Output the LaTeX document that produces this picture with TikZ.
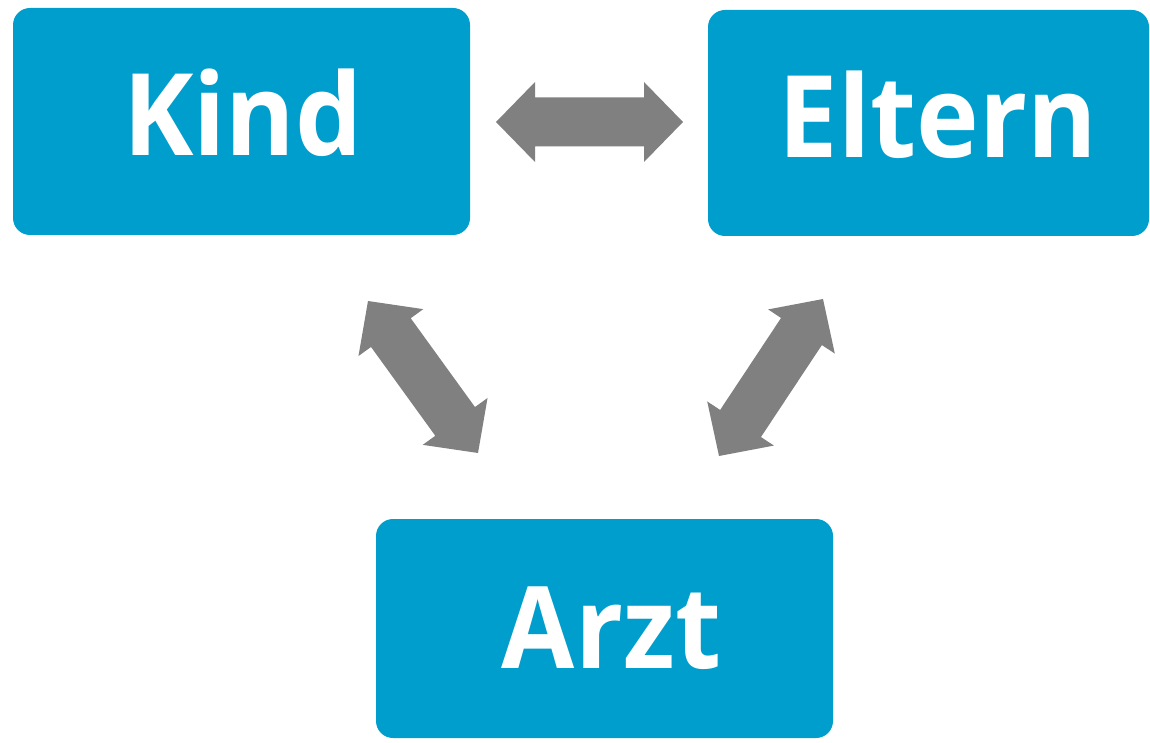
\documentclass[tikz,border=0pt]{standalone}
\usepackage{fontspec}
\setmainfont{Open Sans}
\usetikzlibrary{calc}
\definecolor{boxblue}{RGB}{0,158,204}
\definecolor{arrgray}{RGB}{128,128,128}
\tikzset{
  box/.style={fill=boxblue, rounded corners=17pt, inner sep=0pt, outer sep=0pt},
  lbl/.style={text=white, font=\fontsize{114}{120}\selectfont\bfseries, anchor=base, inner sep=0pt},
  arrowfill/.style={fill=arrgray}
}
\newcommand\narrowtxt[1]{\scalebox{0.93}[1]{#1}}
\newcommand\blockarr[2]{%
  \coordinate (ba1) at ($(#1)!39pt!(#2)$);
  \coordinate (ba2) at ($(#2)!39pt!(#1)$);
  \fill[arrowfill] (#1)
    -- ($(ba1)!40pt!90:(#2)$) -- ($(ba1)!24.5pt!90:(#2)$)
    -- ($(ba2)!24.5pt!-90:(#1)$) -- ($(ba2)!40pt!-90:(#1)$)
    -- (#2)
    -- ($(ba2)!40pt!90:(#1)$) -- ($(ba2)!24.5pt!90:(#1)$)
    -- ($(ba1)!24.5pt!-90:(#2)$) -- ($(ba1)!40pt!-90:(#2)$)
    -- cycle;}
\begin{document}
\begin{tikzpicture}[x=1pt,y=-1pt]
\useasboundingbox (0,0) rectangle (1150,743);
% boxes
\node[box, minimum width=457pt, minimum height=227pt] (kind) at (241.5,121.5) {};
\node[box, minimum width=441pt, minimum height=226pt] (eltern) at (928.5,123) {};
\node[box, minimum width=457pt, minimum height=219pt] (arzt) at (604.5,628.5) {};
% labels
\node[lbl] (kindtxt) at (243,156) {\narrowtxt{Kind}};
\node[lbl] (elterntxt) at (938,158) {\narrowtxt{Eltern}};
\node[lbl] (arzttxt) at (611.5,668) {\narrowtxt{Arzt}};
% arrow end points
\coordinate (ke1) at (496,122);
\coordinate (ke2) at (683,122);
\coordinate (ka1) at (368,301);
\coordinate (ka2) at (478,453);
\coordinate (ea1) at (823,299);
\coordinate (ea2) at (719,456);
\blockarr{ke1}{ke2}
\blockarr{ka1}{ka2}
\blockarr{ea1}{ea2}
\end{tikzpicture}
\end{document}
